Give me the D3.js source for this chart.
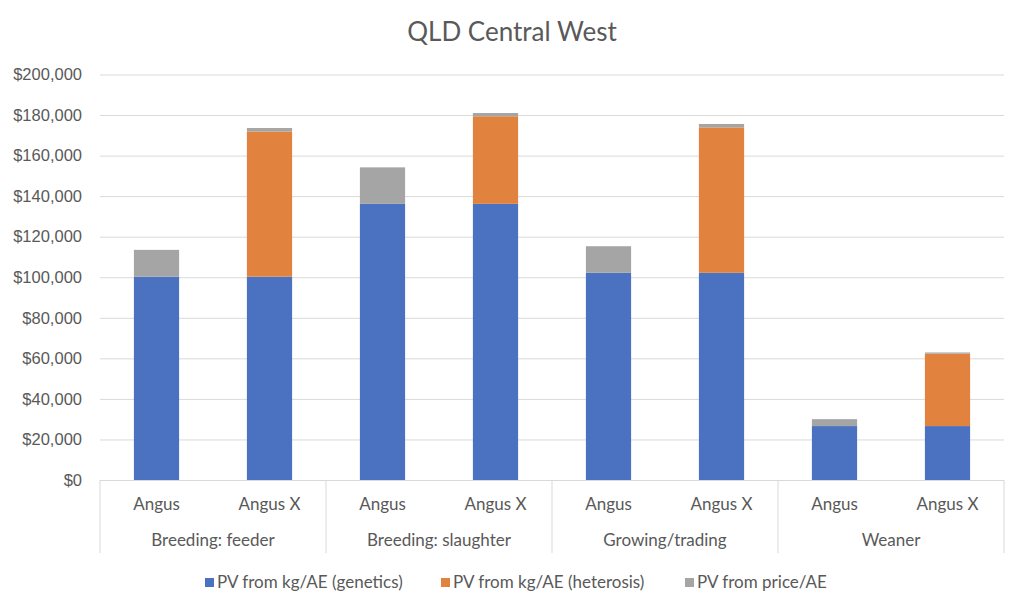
<!DOCTYPE html>
<html><head><meta charset="utf-8">
<script src="https://cdn.jsdelivr.net/npm/d3@7/dist/d3.min.js"></script>
<style>body{margin:0;background:#fff;}svg{display:block;font-family:Lato,"Open Sans",sans-serif;}</style>
</head><body><svg id="c" width="1024" height="609"></svg>
<script>
const groups = ["Breeding: feeder","Breeding: slaughter","Growing/trading","Weaner"];
const breeds = ["Angus","Angus X"];
const seriesNames = ["PV from kg/AE (genetics)","PV from kg/AE (heterosis)","PV from price/AE"];
const genetics  = [100300, 100300, 136200, 136200, 102200, 102200, 26600, 26600];
const heterosis = [0, 71600, 0, 43200, 0, 71700, 0, 35700];
const price     = [13200, 1700, 18000, 1600, 13100, 1700, 3400, 600];
const yTicks = [0,20000,40000,60000,80000,100000,120000,140000,160000,180000,200000];
const colors = ["#4A72C1","#E1833F","#A5A5A5"];

const svg = d3.select("#c");
const L=100, R=1004, T=74.5, B=480;
const rows = [];
groups.forEach((g,gi)=>breeds.forEach((b,bi)=>{const i=gi*2+bi;rows.push({key:i,group:g,breed:b,s0:genetics[i],s1:heterosis[i],s2:price[i]});}));
const x = d3.scaleBand().domain(rows.map(d=>d.key)).range([L,R]).paddingInner(0.6).paddingOuter(0.3);
const y = d3.scaleLinear().domain([0,200000]).range([B,T]);

svg.append("text").attr("x",512).attr("y",41).attr("text-anchor","middle").attr("font-size",26).attr("fill","#595959").text("QLD Central West");

// grid
const yAxis = d3.axisLeft(y).tickValues(yTicks).tickSize(-(R-L)).tickFormat(d=>"$"+d3.format(",")(d));
const ga = svg.append("g").attr("transform",`translate(${L},0)`).call(yAxis);
ga.select(".domain").remove();
ga.selectAll(".tick line").attr("stroke","#D9D9D9").attr("stroke-width",1);
ga.selectAll(".tick text").attr("x",-18).attr("font-size",16.5).attr("fill","#595959");

const stack = d3.stack().keys(["s0","s1","s2"]);
const layers = stack(rows);
svg.append("g").selectAll("g").data(layers).join("g").attr("fill",(d,i)=>colors[i])
  .selectAll("rect").data(d=>d).join("rect")
  .attr("x",d=>x(d.data.key)).attr("width",x.bandwidth())
  .attr("y",d=>y(d[1])).attr("height",d=>Math.max(0,y(d[0])-y(d[1])));

// category axis
const ax = svg.append("g");
ax.append("line").attr("x1",L).attr("x2",R).attr("y1",B+0.5).attr("y2",B+0.5).attr("stroke","#D9D9D9");
const gw = (R-L)/groups.length;
d3.range(groups.length+1).forEach(i=>{
  const xx = L + i*gw;
  ax.append("line").attr("x1",xx).attr("x2",xx).attr("y1",B).attr("y2",553).attr("stroke","#D9D9D9");
});
ax.selectAll(".sub").data(rows).join("text").attr("class","sub")
  .attr("x",d=>x(d.key)+x.bandwidth()/2).attr("y",510).attr("text-anchor","middle")
  .attr("font-size",17).attr("fill","#595959").text(d=>d.breed);
ax.selectAll(".grp").data(groups).join("text").attr("class","grp")
  .attr("x",(d,i)=>L+gw*(i+0.5)).attr("y",546).attr("text-anchor","middle")
  .attr("font-size",17).attr("fill","#595959").text(d=>d);

// legend
const lx = [205, 441, 685];
const lg = svg.append("g");
seriesNames.forEach((s,i)=>{
  lg.append("rect").attr("x",lx[i]).attr("y",578).attr("width",9).attr("height",9).attr("fill",colors[i]);
  lg.append("text").attr("x",lx[i]+12).attr("y",587.5).attr("font-size",17).attr("fill","#595959").text(s);
});
</script></body></html>
